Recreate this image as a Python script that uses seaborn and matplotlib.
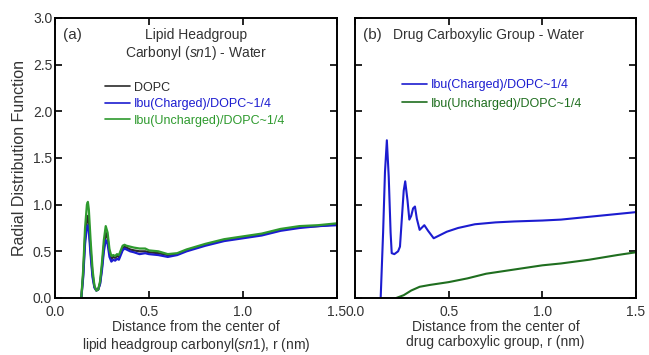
import numpy as np
import pandas as pd
import matplotlib
matplotlib.use("Agg")
import matplotlib.pyplot as plt
import seaborn as sns

# panel (a): lipid headgroup carbonyl (sn1) - water
r_a = [0.14, 0.15, 0.16, 0.17, 0.175, 0.18, 0.19, 0.20, 0.21, 0.22, 0.23, 0.24,
       0.25, 0.26, 0.27, 0.28, 0.29, 0.30, 0.31, 0.32, 0.33, 0.34, 0.35, 0.36,
       0.37, 0.38, 0.40, 0.42, 0.45, 0.48, 0.50, 0.55, 0.60, 0.65, 0.70, 0.80,
       0.90, 1.00, 1.10, 1.20, 1.30, 1.40, 1.50]
g_dopc = [0.0, 0.25, 0.65, 0.86, 0.88, 0.80, 0.50, 0.25, 0.12, 0.08, 0.09, 0.16,
          0.33, 0.55, 0.70, 0.64, 0.48, 0.42, 0.44, 0.43, 0.45, 0.44, 0.48, 0.53,
          0.55, 0.54, 0.52, 0.51, 0.50, 0.50, 0.49, 0.48, 0.46, 0.47, 0.51, 0.57,
          0.62, 0.65, 0.68, 0.73, 0.76, 0.77, 0.79]
g_charged_a = [0.0, 0.22, 0.58, 0.76, 0.78, 0.72, 0.45, 0.22, 0.11, 0.08, 0.09, 0.15,
               0.30, 0.50, 0.62, 0.58, 0.44, 0.39, 0.41, 0.40, 0.42, 0.41, 0.46, 0.51,
               0.53, 0.52, 0.50, 0.49, 0.47, 0.48, 0.47, 0.46, 0.44, 0.46, 0.50, 0.56,
               0.61, 0.64, 0.67, 0.72, 0.75, 0.77, 0.78]
g_uncharged_a = [0.0, 0.30, 0.75, 1.00, 1.03, 0.95, 0.60, 0.30, 0.13, 0.08, 0.09, 0.18,
                 0.38, 0.62, 0.77, 0.70, 0.52, 0.45, 0.46, 0.45, 0.47, 0.46, 0.51, 0.56,
                 0.57, 0.56, 0.55, 0.54, 0.53, 0.53, 0.51, 0.50, 0.47, 0.48, 0.52, 0.58,
                 0.63, 0.66, 0.69, 0.74, 0.77, 0.78, 0.80]

# panel (b): drug carboxylic group - water
r_b_ch = [0.137, 0.15, 0.16, 0.17, 0.18, 0.19, 0.196, 0.21, 0.23, 0.24, 0.25, 0.26,
          0.268, 0.28, 0.29, 0.30, 0.31, 0.32, 0.33, 0.345, 0.36, 0.37, 0.39, 0.42,
          0.45, 0.49, 0.55, 0.64, 0.75, 0.85, 1.00, 1.10, 1.25, 1.40, 1.50]
g_charged_b = [0.0, 0.70, 1.35, 1.69, 1.30, 0.70, 0.48, 0.47, 0.50, 0.55, 0.85, 1.15,
               1.25, 1.05, 0.84, 0.88, 0.96, 0.98, 0.85, 0.73, 0.76, 0.78, 0.72, 0.64,
               0.67, 0.71, 0.75, 0.79, 0.81, 0.82, 0.83, 0.84, 0.87, 0.90, 0.92]
r_b_un = [0.22, 0.26, 0.30, 0.345, 0.40, 0.50, 0.60, 0.70, 0.80, 0.90, 1.00,
          1.10, 1.25, 1.40, 1.50]
g_uncharged_b = [0.0, 0.03, 0.08, 0.12, 0.14, 0.17, 0.21, 0.26, 0.29, 0.32, 0.35,
                 0.37, 0.41, 0.46, 0.49]

lab_dopc = "DOPC"
lab_ch = "Ibu(Charged)/DOPC~1/4"
lab_un = "Ibu(Uncharged)/DOPC~1/4"

sns.set_style("ticks")
plt.rcParams['font.family'] = ['Liberation Sans', 'DejaVu Sans']
plt.rcParams['mathtext.fontset'] = 'custom'
plt.rcParams['mathtext.it'] = 'Liberation Sans:italic'
plt.rcParams['mathtext.rm'] = 'Liberation Sans'

c_black = "#2b2b2b"
c_blue = "#1c1cd0"
c_green_a = "#2e9a2e"
c_green_b = "#1f6e1f"
txt = "#333333"

fig = plt.figure(figsize=(6.49, 3.55), dpi=100)
ax1 = fig.add_axes([0.0847, 0.1606, 0.4345, 0.7887])
ax2 = fig.add_axes([0.547, 0.1606, 0.433, 0.7887])

da = pd.DataFrame({"r": r_a, "dopc": g_dopc, "ch": g_charged_a, "un": g_uncharged_a})
sns.lineplot(data=da, x="r", y="dopc", ax=ax1, color=c_black, lw=1.6, label=lab_dopc)
sns.lineplot(data=da, x="r", y="ch", ax=ax1, color=c_blue, lw=1.6, label=lab_ch)
sns.lineplot(data=da, x="r", y="un", ax=ax1, color=c_green_a, lw=1.6, label=lab_un)

db1 = pd.DataFrame({"r": r_b_ch, "g": g_charged_b})
db2 = pd.DataFrame({"r": r_b_un, "g": g_uncharged_b})
sns.lineplot(data=db1, x="r", y="g", ax=ax2, color=c_blue, lw=1.5, label=lab_ch)
sns.lineplot(data=db2, x="r", y="g", ax=ax2, color=c_green_b, lw=1.5, label=lab_un)

for ax in (ax1, ax2):
    ax.set_xlim(0, 1.5)
    ax.set_ylim(0, 3.0)
    ax.set_xticks([0, 0.5, 1.0, 1.5])
    ax.set_yticks([0, 0.5, 1.0, 1.5, 2.0, 2.5, 3.0])
    ax.xaxis.set_major_formatter(matplotlib.ticker.FormatStrFormatter('%.1f'))
    ax.yaxis.set_major_formatter(matplotlib.ticker.FormatStrFormatter('%.1f'))
    ax.tick_params(direction='in', length=5, width=1.2, top=True, right=True,
                   labelsize=10, colors='black', labelcolor=txt)
    ax.tick_params(axis='x', pad=5)
    ax.tick_params(axis='y', pad=2)
    for s in ax.spines.values():
        s.set_linewidth(1.4)
        s.set_visible(True)
        s.set_color('black')

ax2.tick_params(labelleft=False)

ax1.set_ylabel("Radial Distribution Function", fontsize=11.5, color=txt, labelpad=4)
ax2.set_ylabel("")
ax1.set_xlabel("Distance from the center of\nlipid headgroup carbonyl($\\it{sn1}$), r (nm)",
               fontsize=10, color=txt, labelpad=1, linespacing=1.1)
ax2.set_xlabel("Distance from the center of\ndrug carboxylic group, r (nm)",
               fontsize=10, color=txt, labelpad=1, linespacing=1.1)

ax1.text(0.03, 0.965, "(a)", transform=ax1.transAxes, fontsize=11, color=txt,
         va='top', ha='left')
ax1.text(0.5, 0.965, "Lipid Headgroup\nCarbonyl ($\\it{sn}$1) - Water",
         transform=ax1.transAxes, fontsize=10, color=txt, va='top', ha='center',
         linespacing=1.15)
ax2.text(0.03, 0.965, "(b)", transform=ax2.transAxes, fontsize=11, color=txt,
         va='top', ha='left')
ax2.text(0.135, 0.965, "Drug Carboxylic Group - Water", transform=ax2.transAxes,
         fontsize=10, color=txt, va='top', ha='left')

leg1 = ax1.legend(loc='upper left', bbox_to_anchor=(0.16, 0.79), frameon=False,
                  fontsize=9, handlelength=2.0, handletextpad=0.3, labelspacing=0.35,
                  borderaxespad=0, labelcolor='linecolor')
leg2 = ax2.legend(loc='upper left', bbox_to_anchor=(0.15, 0.80), frameon=False,
                  fontsize=9, handlelength=2.0, handletextpad=0.3, labelspacing=0.55,
                  borderaxespad=0, labelcolor='linecolor')
for leg in (leg1, leg2):
    for h in leg.get_lines():
        h.set_linewidth(1.2)

fig.savefig("out.png", dpi=100)
